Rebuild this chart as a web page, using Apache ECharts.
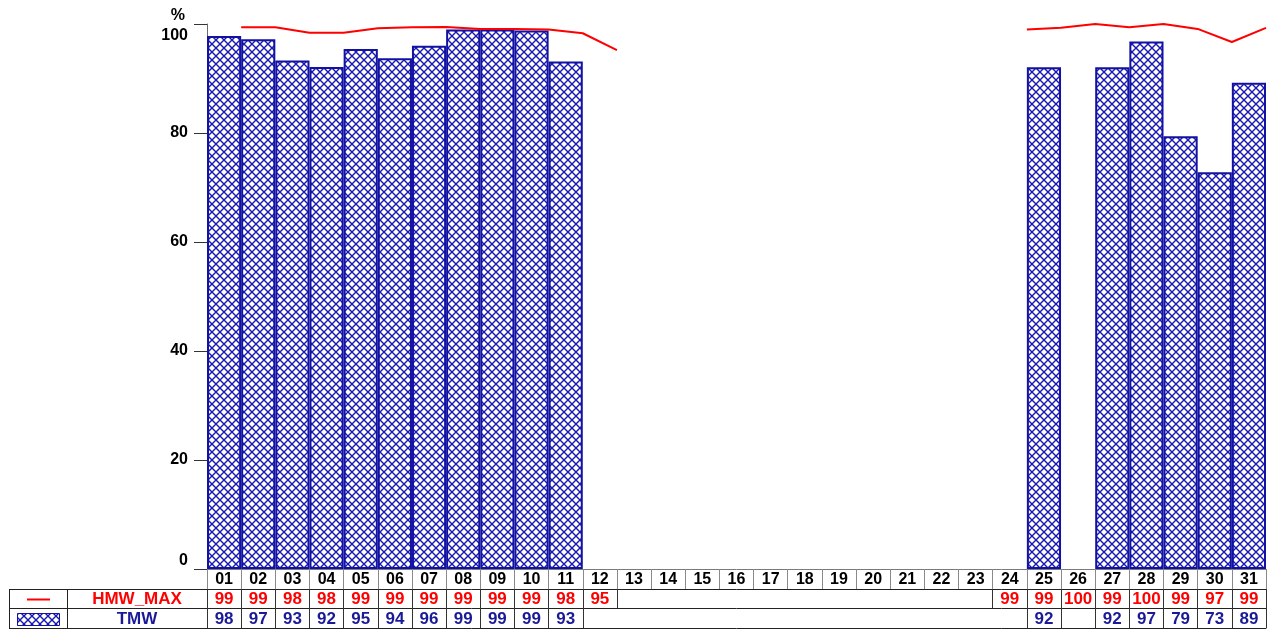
<!DOCTYPE html>
<html><head><meta charset="utf-8">
<script src="https://cdn.jsdelivr.net/npm/echarts@6/dist/echarts.min.js"></script>
<style>html,body{margin:0;padding:0;background:#fff}#c{width:1276px;height:629px}</style>
</head><body><div id="c"></div>
<script>
// ---- data ----
const days = ['01','02','03','04','05','06','07','08','09','10','11','12','13','14','15','16',
  '17','18','19','20','21','22','23','24','25','26','27','28','29','30','31'];
const hmwMax = [99.4, 99.4, 98.4, 98.4, 99.2, 99.4, 99.45, 99.1, 99.1, 99.0, 98.3, 95.2,
  null, null, null, null, null, null, null, null, null, null, null,
  99.0, 99.3, 100.0, 99.4, 100.0, 99.1, 96.7, 99.3];
const tmw = [97.8, 97.2, 93.3, 92.1, 95.4, 93.7, 96.0, 99.0, 99.0, 98.8, 93.1,
  null, null, null, null, null, null, null, null, null, null, null, null, null,
  92.05, null, 92.05, 96.8, 79.4, 72.8, 89.2];
const seriesNames = ['HMW_MAX', 'TMW'];
const yMin = 0, yMax = 100, yStep = 20;

// ---- derived ----
const hmwLabels = hmwMax.map(v => v == null ? '' : String(Math.round(v)));
const tmwLabels = tmw.map(v => v == null ? '' : String(Math.round(v)));
const hasH = hmwMax.map(v => v != null);
const hasT = tmw.map(v => v != null);

const FONT = 'Liberation Sans, Arial, Helvetica, sans-serif';
const RED = '#ff0000', BLUE = '#1212a2', TBLUE = '#1a1a98';

function hatch() {
  const c = document.createElement('canvas'); c.width = 8; c.height = 8;
  const g = c.getContext('2d');
  g.fillStyle = '#ffffff'; g.fillRect(0, 0, 8, 8);
  g.strokeStyle = '#1818b0'; g.lineWidth = 1.4;
  g.beginPath();
  g.moveTo(-1, -1); g.lineTo(9, 9);
  g.moveTo(9, -1); g.lineTo(-1, 9);
  g.stroke();
  return c;
}
const pat = hatch();

const chart = echarts.init(document.getElementById('c'), null, {renderer: 'canvas'});

const rowAxis = (offset, formatter, color, tickFn, tickLen, tickColor, lineColor, margin, showLabel, fs) => ({
  type: 'category', data: days, position: 'bottom', offset: offset, gridIndex: 0,
  axisLine: {show: true, lineStyle: {color: lineColor, width: 1}},
  axisTick: {show: tickFn !== null, length: tickLen, interval: tickFn === null ? 0 : tickFn,
    lineStyle: {color: tickColor, width: 1}},
  axisLabel: {show: showLabel, interval: 0, margin: margin, color: color,
    fontFamily: FONT, fontWeight: 'bold', fontSize: fs, formatter: formatter},
  splitLine: {show: false}
});

const option = {
  backgroundColor: '#ffffff',
  animation: false,
  grid: {left: 207, right: 10, top: 24, bottom: 60, containLabel: false, outerBoundsMode: 'none'},
  xAxis: [
    rowAxis(0, (v) => v, '#000000', () => true, 20, '#8a8a8a', '#7a7a7a', 3, true, 16),
    rowAxis(20, (v, i) => hmwLabels[i], RED, (i) => hasH[i] || (i > 0 && hasH[i - 1]), 19, '#333333', '#222222', 2, true, 17),
    rowAxis(39, (v, i) => tmwLabels[i], TBLUE, (i) => hasT[i] || (i > 0 && hasT[i - 1]), 20, '#333333', '#222222', 3, true, 17),
    rowAxis(59, () => '', '#000', null, 0, '#222', '#222222', 0, false, 16),
    {type: 'value', min: 0, max: days.length, show: false, gridIndex: 0}
  ],
  yAxis: {
    type: 'value', min: yMin, max: yMax, interval: yStep,
    name: '%', nameLocation: 'end', nameGap: 0,
    nameTextStyle: {fontFamily: FONT, fontWeight: 'bold', fontSize: 16, color: '#000',
      align: 'right', verticalAlign: 'bottom', padding: [0, 22, 0, 0]},
    axisLine: {show: true, lineStyle: {color: '#6a6a6a', width: 1}},
    axisTick: {show: true, length: 13, lineStyle: {color: '#333', width: 1}},
    axisLabel: {margin: 19, color: '#000', fontFamily: FONT, fontWeight: 'bold', fontSize: 16,
      verticalAlignMinLabel: 'bottom', verticalAlignMaxLabel: 'top',
      formatter: (v) => v === yMax ? '{mx|' + v + '}' : String(v),
      rich: {mx: {padding: [4, 0, 0, 0], fontFamily: FONT, fontWeight: 'bold', fontSize: 16, color: '#000'}}},
    splitLine: {show: false}
  },
  series: [
    {
      name: seriesNames[1], type: 'bar', xAxisIndex: 0, yAxisIndex: 0,
      data: tmw, barCategoryGap: '0%', barGap: '0%',
      itemStyle: {color: {image: pat, repeat: 'repeat'}, borderColor: BLUE, borderWidth: 2},
      emphasis: {disabled: true}, z: 2
    },
    {
      name: seriesNames[0], type: 'line', xAxisIndex: 4, yAxisIndex: 0,
      data: hmwMax.map((v, i) => [i + 1, v]), connectNulls: false,
      symbol: 'none', clip: false,
      lineStyle: {color: RED, width: 2}, itemStyle: {color: RED},
      emphasis: {disabled: true}, z: 3
    }
  ],
  graphic: [
    {type: 'line', shape: {x1: 9, y1: 589.5, x2: 207, y2: 589.5}, style: {stroke: '#222', lineWidth: 1}, silent: true},
    {type: 'line', shape: {x1: 9, y1: 608.5, x2: 207, y2: 608.5}, style: {stroke: '#222', lineWidth: 1}, silent: true},
    {type: 'line', shape: {x1: 9, y1: 628.5, x2: 207, y2: 628.5}, style: {stroke: '#222', lineWidth: 1}, silent: true},
    {type: 'line', shape: {x1: 9.5, y1: 589, x2: 9.5, y2: 629}, style: {stroke: '#222', lineWidth: 1}, silent: true},
    {type: 'line', shape: {x1: 67.5, y1: 589, x2: 67.5, y2: 629}, style: {stroke: '#222', lineWidth: 1}, silent: true},
    {type: 'line', shape: {x1: 27, y1: 599.5, x2: 50, y2: 599.5}, style: {stroke: RED, lineWidth: 2}, silent: true},
    {type: 'rect', shape: {x: 17.5, y: 613.5, width: 42, height: 12},
      style: {fill: {image: pat, repeat: 'repeat'}, stroke: BLUE, lineWidth: 1}, silent: true},
    {type: 'text', x: 137, y: 599.5, style: {text: seriesNames[0], fill: RED, font: 'bold 17px ' + FONT,
      textAlign: 'center', textVerticalAlign: 'middle'}, silent: true},
    {type: 'text', x: 137, y: 619.5, style: {text: seriesNames[1], fill: TBLUE, font: 'bold 17px ' + FONT,
      textAlign: 'center', textVerticalAlign: 'middle'}, silent: true}
  ]
};
chart.setOption(option);
</script>
</body></html>
